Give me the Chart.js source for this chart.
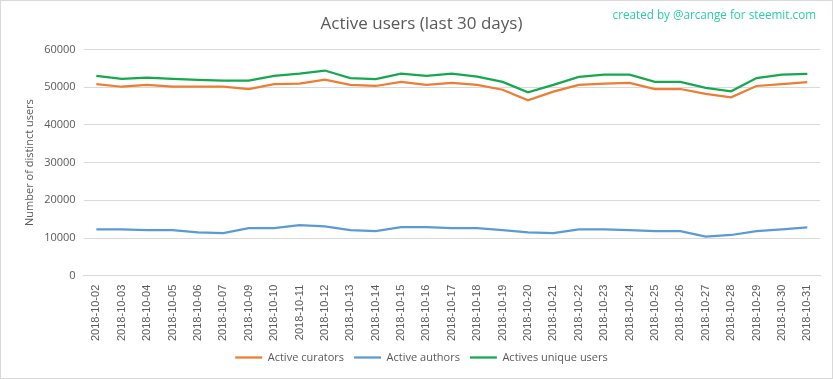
<!DOCTYPE html>
<html>
<head>
<meta charset="utf-8">
<script src="https://cdn.jsdelivr.net/npm/chart.js@4"></script>
<style>
  body { margin: 0; background: #fff; }
  #wrap { position: relative; width: 831px; height: 377px; border: 1px solid #d9d9d9; }
  #credit { position: absolute; right: 16px; top: 5px; font: 11.7px "Open Sans", sans-serif; color: #2ccfa4; }
</style>
</head>
<body>
<div id="wrap">
  <canvas id="myChart" width="831" height="377"></canvas>
  <div id="credit">created by @arcange for steemit.com</div>
</div>
<script>
// dates shown on the x axis (10-08 is missing in the source)
var labels = ["2018-10-02","2018-10-03","2018-10-04","2018-10-05","2018-10-06","2018-10-07","2018-10-09",
  "2018-10-10","2018-10-11","2018-10-12","2018-10-13","2018-10-14","2018-10-15","2018-10-16","2018-10-17",
  "2018-10-18","2018-10-19","2018-10-20","2018-10-21","2018-10-22","2018-10-23","2018-10-24","2018-10-25",
  "2018-10-26","2018-10-27","2018-10-28","2018-10-29","2018-10-30","2018-10-31"];

var curators = [50800, 50100, 50600, 50100, 50100, 50100, 49500, 50800, 50900, 52000, 50600, 50300, 51400, 50600, 51100,
  50600, 49300, 46500, 48800, 50600, 50900, 51100, 49500, 49500, 48200, 47300, 50300, 50800, 51300];
var authors = [12300, 12300, 12100, 12100, 11500, 11300, 12600, 12600, 13400, 13100, 12100, 11800, 12900, 12900, 12600,
  12600, 12100, 11500, 11300, 12300, 12300, 12100, 11800, 11800, 10400, 10800, 11800, 12300, 12800];
var uniques = [53000, 52200, 52500, 52200, 51900, 51700, 51700, 53000, 53600, 54400, 52400, 52100, 53600, 53000, 53600,
  52800, 51400, 48600, 50600, 52700, 53300, 53300, 51400, 51400, 49800, 48900, 52400, 53300, 53500];

var yTicks = [0, 10000, 20000, 30000, 40000, 50000, 60000];

var grey = '#595959';

function makeSet(name, values, color) {
    return {
        label: name,
        data: values,
        borderColor: color,
        backgroundColor: color,
        borderWidth: 2.25,
        pointRadius: 0,
        tension: 0
    };
}

new Chart(document.getElementById('myChart'), {
    type: 'line',
    data: {
        labels: labels,
        datasets: [
            makeSet('Active curators', curators, '#ed7d31'),
            makeSet('Active authors', authors, '#5b9bd5'),
            makeSet('Actives unique users', uniques, '#16a84f')
        ]
    },
    options: {
        responsive: false,
        animation: false,
        layout: { padding: { left: 22, right: 12, top: 8, bottom: 5 } },
        plugins: {
            title: {
                display: true,
                text: 'Active users (last 30 days)',
                color: grey,
                font: { family: 'Open Sans', size: 17, weight: 'normal' },
                padding: { top: 5, bottom: 15 }
            },
            legend: {
                position: 'bottom',
                labels: {
                    usePointStyle: true,
                    pointStyle: 'line',
                    pointStyleWidth: 27,
                    color: grey,
                    font: { family: 'Open Sans', size: 11 },
                    padding: 10
                }
            },
            tooltip: { enabled: false }
        },
        scales: {
            x: {
                offset: true,
                grid: { display: false },
                border: { color: '#d9d9d9' },
                ticks: {
                    color: grey,
                    font: { family: 'Liberation Sans', size: 11 },
                    padding: 1,
                    minRotation: 90,
                    maxRotation: 90,
                    autoSkip: false
                }
            },
            y: {
                min: 0,
                max: 60000,
                afterBuildTicks: function(axis) {
                    axis.ticks = yTicks.map(function(v) { return { value: v }; });
                },
                grid: { color: '#d9d9d9', drawTicks: false },
                border: { display: false },
                ticks: {
                    color: grey,
                    font: { family: 'Open Sans', size: 11 },
                    padding: 8,
                    callback: function(v) { return String(v); }
                },
                title: {
                    display: true,
                    text: 'Number of distinct users',
                    color: grey,
                    font: { family: 'Open Sans', size: 11 },
                    padding: 0
                }
            }
        }
    }
});
</script>
</body>
</html>
